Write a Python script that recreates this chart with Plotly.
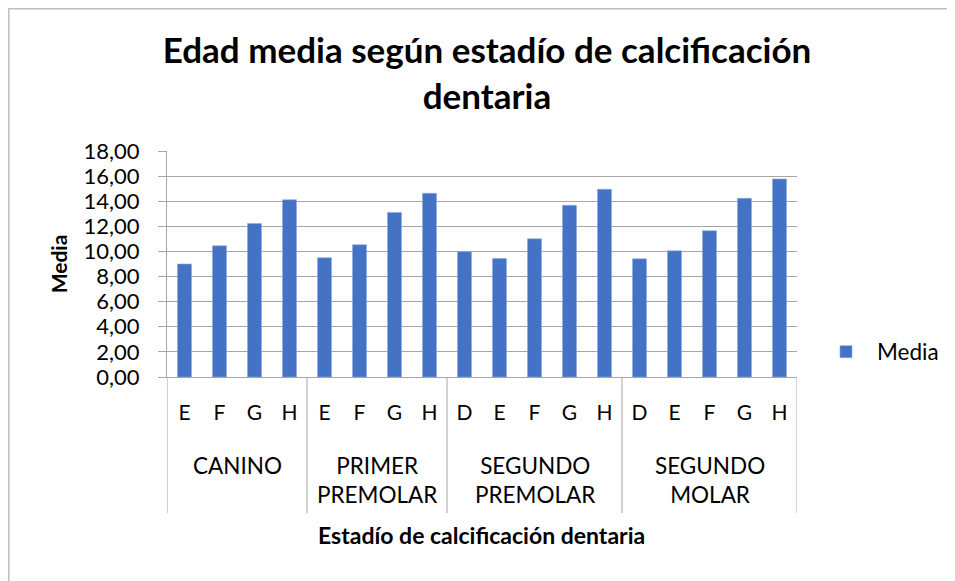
import plotly.graph_objects as go

groups = ["CANINO", "PRIMER<br>PREMOLAR", "SEGUNDO<br>PREMOLAR", "SEGUNDO<br>MOLAR"]
group_stages = [["E", "F", "G", "H"], ["E", "F", "G", "H"], ["D", "E", "F", "G", "H"], ["D", "E", "F", "G", "H"]]
media = [9.00, 10.45, 12.23, 14.12, 9.50, 10.53, 13.11, 14.63, 9.98, 9.44, 11.01, 13.67, 14.95, 9.41, 10.05, 11.65, 14.23, 15.77]
y_ticks = [0, 2, 4, 6, 8, 10, 12, 14, 16, 18]

stages = [s for st in group_stages for s in st]
xpos = list(range(len(stages)))

# page body adds an 8px offset; target pixel positions are given in screen coords
OFF = 8
W, H = 955, 581
L, T = 167 - OFF, 151 - OFF
pw, ph = 630, 226
R, B = W - L - pw, H - T - ph

FONT = "Lato, 'Open Sans', sans-serif"
GRID = "#A6A6A6"


def py(px):  # screen pixel y -> paper y
    return (T + ph - (px - OFF)) / ph


def px_x(px):  # screen pixel x -> paper x
    return (px - OFF - L) / pw


fig = go.Figure()
fig.add_trace(go.Bar(
    x=xpos, y=media, name="Media",
    marker=dict(color="#4472C4", line=dict(color="#8FAADC", width=0.6)),
    showlegend=True,
))

shapes = [dict(type="rect", xref="paper", yref="paper",
               x0=px_x(OFF + 0.8), x1=px_x(W + 20), y0=py(H + 20), y1=py(OFF + 0.8),
               line=dict(color="#BFBFBF", width=1.5), fillcolor="rgba(0,0,0,0)", layer="below")]
annotations = []
start = 0
bounds = [-0.5]
for g, st in zip(groups, group_stages):
    end = start + len(st)
    bounds.append(end - 0.5)
    annotations.append(dict(
        x=(start + end - 1) / 2, xref="x", y=py(450), yref="paper",
        text=g, showarrow=False, xanchor="center", yanchor="top",
        font=dict(size=22.5), align="center",
    ))
    start = end
for b in bounds:
    shapes.append(dict(type="line", xref="x", yref="paper", x0=b, x1=b,
                       y0=0, y1=py(513), line=dict(color=GRID, width=1)))

annotations.append(dict(
    x=px_x(481), xref="paper", y=py(535), yref="paper",
    text="<b>Estadío de calcificación dentaria</b>", showarrow=False,
    xanchor="center", yanchor="middle", font=dict(size=23),
))

fig.update_layout(
    width=W, height=H,
    margin=dict(l=L, r=R, t=T, b=B, autoexpand=False),
    paper_bgcolor="white", plot_bgcolor="white",
    separators=",.",
    bargap=0.6,
    font=dict(family=FONT, color="black", size=21),
    title=dict(
        text="<b>Edad media según estadío de calcificación<br>dentaria</b>",
        x=(487 - OFF) / W, xanchor="center", y=1 - (63 - OFF) / H, yanchor="middle",
        font=dict(size=35, family=FONT, color="black"),
    ),
    showlegend=True,
    legend=dict(x=px_x(815), y=py(352), yanchor="middle", itemwidth=52,
                xanchor="left", font=dict(size=22.5), bgcolor="rgba(0,0,0,0)"),
    xaxis=dict(
        range=[-0.5, len(stages) - 0.5],
        tickmode="array", tickvals=xpos, ticktext=stages,
        showline=True, linecolor=GRID, linewidth=1,
        showgrid=False, zeroline=False,
        ticks="", ticklabelstandoff=17, tickfont=dict(size=21),
        automargin=False,
    ),
    yaxis=dict(
        range=[0, 18], tickvals=y_ticks, tickformat=".2f",
        showgrid=True, gridcolor=GRID, gridwidth=1,
        showline=True, linecolor=GRID, linewidth=1,
        ticks="outside", ticklen=8, tickcolor=GRID,
        ticklabelstandoff=14,
        zeroline=False, automargin=False,
        tickfont=dict(size=22),
        title=dict(text="<b>Media</b>", font=dict(size=21), standoff=10),
    ),
    shapes=shapes,
    annotations=annotations,
)

fig.write_html("out.html")
